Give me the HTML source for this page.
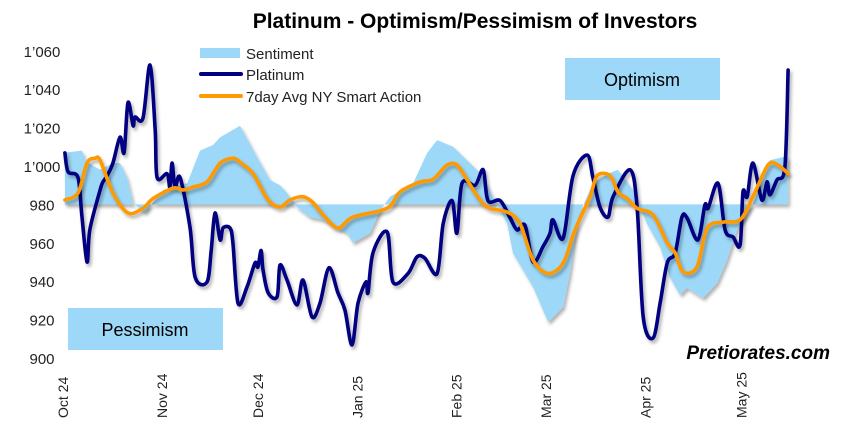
<!DOCTYPE html>
<html><head><meta charset="utf-8"><style>
body{margin:0;background:#fff;}
svg{display:block;font-family:"Liberation Sans",Arial,sans-serif;}
</style></head><body>
<svg id="chart" width="853" height="427" viewBox="0 0 853 427">
<defs><filter id="sh" x="-5%" y="-5%" width="110%" height="115%"><feDropShadow dx="2" dy="3" stdDeviation="1.5" flood-color="#000" flood-opacity="0.3"/></filter></defs>
<text x="475" y="28" text-anchor="middle" font-size="21" font-weight="bold">Platinum - Optimism/Pessimism of Investors</text>
<rect x="565" y="58" width="155" height="42" fill="#9dd8f8"/>
<text x="642" y="86" text-anchor="middle" font-size="18">Optimism</text>
<rect x="68" y="308" width="155" height="42" fill="#9dd8f8"/>
<text x="145" y="336" text-anchor="middle" font-size="18">Pessimism</text>
<g id="yaxis"></g>
<g id="xaxis"></g>
<g id="plot"></g>
<g>
<rect x="200" y="48" width="40" height="10" fill="#9dd8f8"/>
<text x="246" y="59" font-size="15" fill="#222">Sentiment</text>
<line x1="201" y1="74" x2="241" y2="74" stroke="#000080" stroke-width="4" stroke-linecap="round"/>
<text x="246" y="80" font-size="15" fill="#222">Platinum</text>
<line x1="201" y1="96" x2="241" y2="96" stroke="#ff9900" stroke-width="4" stroke-linecap="round"/>
<text x="246" y="102" font-size="15" fill="#222">7day Avg NY Smart Action</text>
</g>
<text x="830" y="359" text-anchor="end" font-size="19" font-weight="bold" font-style="italic">Pretiorates.com</text>
</svg>
<script>
const yTicks=[900,920,940,960,980,1000,1020,1040,1060];
const yTickLabels=["900","920","940","960","980","1’000","1’020","1’040","1’060"];
const monthLabels=["Oct 24","Nov 24","Dec 24","Jan 25","Feb 25","Mar 25","Apr 25","May 25"];
const monthDays=[0,31,61,92,123,151,182,212];
const baseline=980;
const platDays=[0.6,1.6,4.7,5.9,7.5,8.4,11.6,12.5,13.8,15.6,17.8,19.1,20.3,21.9,22.5,25,27.2,28.8,29.4,32.5,33.4,34.1,35,36.6,39.7,41.3,45,46.3,47.5,49.1,50,52.2,53.1,54.7,57.5,60,60.9,61.9,62.5,64.1,66.9,67.8,70,73.1,75,77.8,80.3,83.1,85.9,88.1,90.3,92.2,94.7,95.3,96.9,101.3,103.1,107.8,110.6,113.1,116.9,118.8,121.6,123.1,124.7,128.8,131.3,132.8,136.6,139.7,141.9,144.4,146.9,150,152.2,153.1,156.3,159.4,163.8,165.6,167.8,170.3,171.9,177.2,179.4,181.3,184.4,186.6,188.8,191.3,193.4,195,198.4,200.6,201.6,204.7,206.9,209.4,211.6,212.5,213.8,215.6,218.4,220,220.9,223.1,225.6,226.6];
const platValues=[1006.8,997,994,974,950,967,987.5,991.7,995,1001.5,1015,1007,1033,1021,1025.5,1025,1052.6,1018.7,994,996,989,1001.5,989,994,968,942,939.6,956,975.5,961.5,967.7,967.7,960,928.6,937,949.5,947.4,956,946,934,932,948.4,940.6,927.6,940.6,921.4,928.6,947,934,925,906.8,928.6,939.6,934,955,965.6,939.6,944,952.6,952,944,970,982,965,991,990,998,982,982,973,966.7,969,950,958,965,972,962.5,995,1005.7,994,978.6,973.4,984,998,978.6,921.4,910.4,928.6,949.5,954.7,973.4,973,961.5,979.7,978,991,966.7,963,958.9,986.5,984,1001.5,982.3,991.7,985,992.7,999.5,1050];
const avgDays=[0.6,4.7,7.5,10,11.6,15.6,20.3,25,28.1,34.4,37.5,40.6,45,49.1,53.1,55.3,59.4,63.8,67.8,70.9,75,78.1,81.3,85.9,90.6,101.3,105.3,111.6,115.6,120,123.1,126.3,130.3,133.4,138.8,142.8,146.9,151.6,156.3,160,164.7,166.9,170.9,173.4,176.3,179.4,184.4,188.8,191.3,193.8,198.1,201.3,206.3,211.6,215.6,220.3,223.4,226.6];
const avgValues=[982.3,986,1001.5,1004,1003,986,975.5,978,983,988.5,987.5,989,991.7,1001.5,1004,1002,996,983,978.6,982.3,984,981,974.5,967.7,973.4,978,986.5,991.7,993,1000.5,1000.5,992.7,982.3,978,976,970,951,944,949.5,966.7,984,995,995,986.5,983,978,974.5,960,954.7,944.8,947.4,967.7,970.8,972,984,1000.5,1000.5,996];
const sentDays=[0.6,5.9,7.5,11.6,15.6,17.8,20,21.9,25.6,28.1,31.3,38.8,42.8,46.9,49.1,55.3,60.6,64.7,67.8,70,73.1,77.2,81.3,88.8,90.6,95.9,99.1,102.2,109.4,113.8,116.9,121.9,130.3,134.4,138.8,140.6,146.9,151.6,156.3,158.4,160.9,165.6,170.9,173.4,178.1,182.5,186.6,189.7,192.8,195,200,204.4,207.5,210.6,215.6,220.9,225,226.6];
const sentValues=[1007,1008,1002,998,1001.5,1001.5,994,980.7,975.5,981,987.5,991,1008,1011,1015,1021,1004.7,992.7,990,986,978.6,973.4,972,965,960,965,977,984,991,1006.8,1013.5,1010,996.4,984,970,954.7,937,918.7,926.6,944.3,973.4,991,996.4,998,987.5,970,957.8,942,932.8,936.5,931.2,939,951,966.7,980.7,1003,1004.7,1004.7];

const NS="http://www.w3.org/2000/svg";
const xS=d=>63+d*3.2;
const yS=v=>358-(v-900)*1.92;
function mk(tag,attrs,parent){const e=document.createElementNS(NS,tag);for(const k in attrs)e.setAttribute(k,attrs[k]);parent.appendChild(e);return e;}
const yax=document.getElementById('yaxis'),xax=document.getElementById('xaxis'),plot=document.getElementById('plot');
yTicks.forEach((t,i)=>{
  const el=mk('text',{x:42,y:yS(t)+6,'text-anchor':'middle','font-size':15,fill:'#222'},yax);
  el.textContent=yTickLabels[i];
  
  
});
monthLabels.forEach((m,i)=>{
  const x=xS(monthDays[i])+5;
  const el=mk('text',{x:0,y:0,transform:`translate(${x},418) rotate(-90)`,'font-size':14,fill:'#222'},xax);
  el.textContent=m;
  
  
});
let d=`M${xS(sentDays[0])},${yS(baseline)}`;
sentDays.forEach((s,i)=>{d+=` L${xS(s).toFixed(1)},${yS(sentValues[i]).toFixed(1)}`;});
d+=` L${xS(sentDays[sentDays.length-1])},${yS(baseline)} Z`;
const area=mk('path',{d:d,fill:'#9dd8f8',filter:'url(#sh)'},plot);


function smooth(p){
  let s=`M${p[0][0].toFixed(1)},${p[0][1].toFixed(1)}`;
  for(let i=0;i<p.length-1;i++){
    const p0=p[Math.max(0,i-1)],p1=p[i],p2=p[i+1],p3=p[Math.min(p.length-1,i+2)];
    const t=0.16;
    const c1=[p1[0]+(p2[0]-p0[0])*t,p1[1]+(p2[1]-p0[1])*t];
    const c2=[p2[0]-(p3[0]-p1[0])*t,p2[1]-(p3[1]-p1[1])*t];
    s+=` C${c1[0].toFixed(1)},${c1[1].toFixed(1)} ${c2[0].toFixed(1)},${c2[1].toFixed(1)} ${p2[0].toFixed(1)},${p2[1].toFixed(1)}`;
  }
  return s;
}
function line(days,vals,color,name){
  const pts=days.map((s,i)=>[xS(s),yS(vals[i])]);
  const pl=mk('path',{d:smooth(pts),fill:'none',stroke:color,'stroke-width':3.6,'stroke-linejoin':'round','stroke-linecap':'round',filter:'url(#sh)'},plot);
  
  
}
line(platDays,platValues,'#000080','platinum-line');
line(avgDays,avgValues,'#ff9900','7day-avg-line');
</script>
</body></html>
